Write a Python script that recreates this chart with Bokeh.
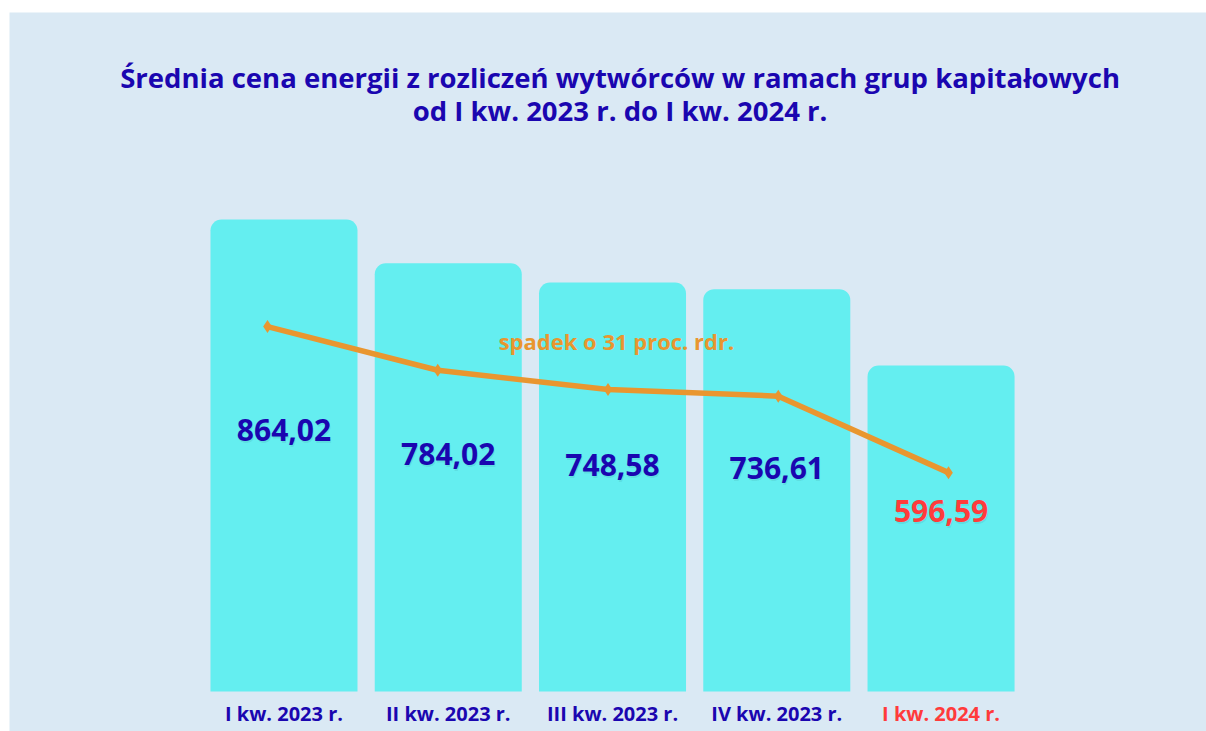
from bokeh.plotting import figure
from bokeh.models import Range1d, Label, ColumnDataSource, Spacer
from bokeh.layouts import column, row
from bokeh.embed import file_html
from bokeh.resources import INLINE
from bokeh.core.properties import value

# ---- data ----
categories = ["I kw. 2023 r.", "II kw. 2023 r.", "III kw. 2023 r.", "IV kw. 2023 r.", "I kw. 2024 r."]
prices = [864.02, 784.02, 748.58, 736.61, 596.59]
price_labels = ["864,02", "784,02", "748,58", "736,61", "596,59"]
title_lines = ["Średnia cena energii z rozliczeń wytwórców w ramach grup kapitałowych",
               "od I kw. 2023 r. do I kw. 2024 r."]
note = "spadek o 31 proc. rdr."

BG = "#DAE9F4"
BAR = "#64EEF0"
BLUE = "#1A06B0"
RED = "#FF3B3B"
ORANGE = "#E9962F"
FONT = "Open Sans"

idx = list(range(len(categories)))
text_colors = [BLUE] * (len(categories) - 1) + [RED]

src = ColumnDataSource(dict(
    x=idx, cat=categories, v=prices, lab=price_labels,
    ly=[v * 0.555 for v in prices], cy=[-40.3] * len(idx), col=text_colors,
))

p = figure(width=1197, height=719,
           x_range=Range1d(-1.671, 5.616), y_range=Range1d(-73.2, 1243.0),
           x_axis_location=None, y_axis_location=None,
           output_backend="svg", toolbar_location=None, min_border=0)
p.background_fill_color = BG
p.border_fill_color = BG
p.outline_line_color = None
p.xgrid.visible = False
p.ygrid.visible = False

p.extra_x_ranges = {"line": Range1d(-1.5154, 5.5154)}
p.extra_y_ranges = {"line": Range1d(122.7, 1438.9)}

p.vbar(x="x", top="v", bottom=0, width=0.895, source=src,
       fill_color=BAR, line_color=None, border_radius=(11, 11, 0, 0))

p.line(x="x", y="v", source=src, x_range_name="line", y_range_name="line",
       line_color=ORANGE, line_width=5.5)
p.scatter(x="x", y="v", source=src, x_range_name="line", y_range_name="line",
          marker="diamond", size=13, fill_color=ORANGE, line_color=None)

# value labels with a faint shadow
p.text(x="x", y="ly", text="lab", source=src, x_offset=1, y_offset=2,
       text_font=value(FONT), text_font_style="bold", text_font_size="30px",
       text_align="center", text_baseline="middle", text_color="#000000", text_alpha=0.07)
p.text(x="x", y="ly", text="lab", source=src,
       text_font=value(FONT), text_font_style="bold", text_font_size="30px",
       text_align="center", text_baseline="middle", text_color="col")

# category labels
p.text(x="x", y="cy", text="cat", source=src,
       text_font=value(FONT), text_font_style="bold", text_font_size="20px",
       text_align="center", text_baseline="middle", text_color="col")

# title
for txt, yy in zip(title_lines, [1124.0, 1063.0]):
    p.add_layout(Label(x=2.046, y=yy, text=txt, text_font=FONT, text_font_style="bold",
                       text_font_size="27.5px", text_color=BLUE,
                       text_align="center", text_baseline="middle"))

p.add_layout(Label(x=2.024, y=642.5, text=note, text_font=FONT, text_font_style="bold",
                   text_font_size="22px", text_color=ORANGE,
                   text_align="center", text_baseline="middle"))

layout = column(Spacer(height=12), row(Spacer(width=9), p), spacing=0)
open("out.html", "w").write(file_html(layout, INLINE))
